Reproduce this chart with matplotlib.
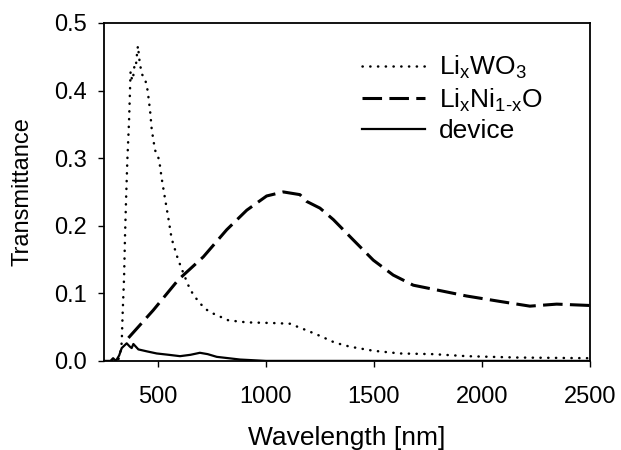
import matplotlib.pyplot as plt
from matplotlib.ticker import FormatStrFormatter

plt.rcParams['font.family'] = ['Liberation Sans', 'DejaVu Sans']
plt.rcParams['mathtext.fontset'] = 'custom'
plt.rcParams['mathtext.rm'] = 'Liberation Sans'
plt.rcParams['mathtext.it'] = 'Liberation Sans'
plt.rcParams['mathtext.default'] = 'rm'

# Li_xWO3 (dotted)
wo3_wl = [250, 310, 322, 332, 336, 343, 347, 352, 358, 366, 373, 380, 386, 392, 398,
          403, 407, 414, 424, 441, 452, 463, 471, 486, 505, 517, 532, 548, 563, 589,
          606, 640, 663, 690, 718, 756, 826, 911, 1034, 1111, 1150, 1190, 1250, 1319,
          1389, 1497, 1620, 1773, 1929, 2160, 2500]
wo3_t = [0.0, 0.0, 0.005, 0.027, 0.068, 0.125, 0.182, 0.238, 0.297, 0.356, 0.428, 0.415,
         0.423, 0.440, 0.438, 0.455, 0.466, 0.445, 0.425, 0.416, 0.400, 0.371, 0.342,
         0.312, 0.298, 0.270, 0.241, 0.211, 0.181, 0.154, 0.139, 0.112, 0.098, 0.087,
         0.077, 0.070, 0.060, 0.057, 0.056, 0.055, 0.050, 0.045, 0.037, 0.027, 0.021,
         0.015, 0.011, 0.010, 0.007, 0.005, 0.004]

# Li_xNi_(1-x)O (dashed)
nio_wl = [363, 478, 594, 710, 818, 911, 1003, 1080, 1157, 1188, 1250, 1312, 1404, 1497,
          1589, 1682, 1806, 1929, 2083, 2222, 2346, 2500]
nio_t = [0.034, 0.075, 0.120, 0.154, 0.194, 0.223, 0.244, 0.250, 0.246, 0.236, 0.226,
         0.209, 0.179, 0.149, 0.127, 0.112, 0.104, 0.096, 0.088, 0.081, 0.084, 0.082]

# device (solid)
dev_wl = [250, 280, 292, 305, 320, 332, 355, 370, 378, 386, 409, 450, 494, 550, 602,
          650, 694, 730, 772, 880, 1000, 1400, 2500]
dev_t = [0.0, 0.0, 0.004, 0.0, 0.008, 0.019, 0.026, 0.021, 0.019, 0.025, 0.017, 0.014,
         0.011, 0.009, 0.007, 0.009, 0.012, 0.010, 0.006, 0.002, 0.0, 0.0, 0.0]

fig = plt.figure(figsize=(6.21, 4.5), dpi=100)
ax = fig.add_axes([0.1675, 0.198, 0.7825, 0.751])

ax.plot(wo3_wl, wo3_t, color='black', lw=1.8, linestyle=(0, (0.1, 3.0)),
        dash_capstyle='round', label=r'Li$_\mathregular{x}$WO$_\mathregular{3}$')
ax.plot(nio_wl, nio_t, color='black', lw=2.2, linestyle=(0, (6.4, 2.4)),
        label=r'Li$_\mathregular{x}$Ni$_\mathregular{1\text{-}x}$O')
ax.plot(dev_wl, dev_t, color='black', lw=1.6, label='device')

ax.set_xlim(250, 2500)
ax.set_ylim(0, 0.5)
ax.set_xticks([500, 1000, 1500, 2000, 2500])
ax.set_yticks([0.0, 0.1, 0.2, 0.3, 0.4, 0.5])
ax.yaxis.set_major_formatter(FormatStrFormatter('%.1f'))
ax.tick_params(labelsize=17, length=4, width=1)
ax.tick_params(axis='x', pad=14)
ax.tick_params(axis='y', pad=8)
for s in ax.spines.values():
    s.set_linewidth(1.3)

ax.set_xlabel('Wavelength [nm]', fontsize=19, labelpad=13)
ax.set_ylabel('Transmittance', fontsize=17, labelpad=15)

ax.legend(loc='upper left', bbox_to_anchor=(362 / 621, 1 - 54 / 450),
          bbox_transform=fig.transFigure, frameon=False, fontsize=19,
          handlelength=2.4, labelspacing=0.2, handletextpad=0.5,
          borderpad=0, borderaxespad=0)

fig.savefig('out.png', dpi=100)
